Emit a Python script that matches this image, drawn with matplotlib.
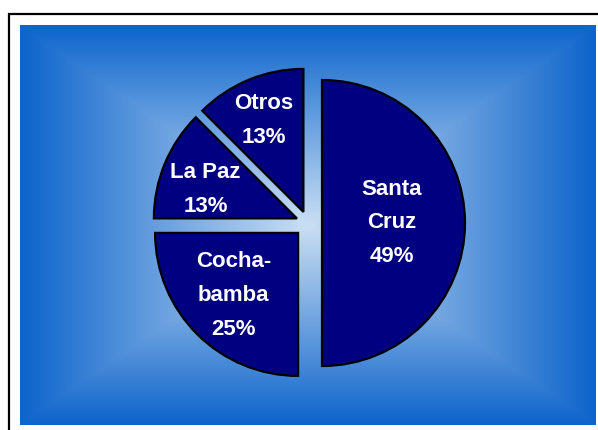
#!/usr/bin/env python3
"""Exploded pie chart of shares by department on a blue gradient panel."""

import numpy as np
import matplotlib.pyplot as plt
from matplotlib.patches import Rectangle

plt.rcParams["font.family"] = ["Liberation Sans", "DejaVu Sans"]

LABELS = ["Santa\nCruz", "Cocha-\nbamba", "La Paz", "Otros"]
# slice sizes as drawn and the printed labels
SLICE_SIZES = [50, 25, 12.5, 12.5]
PCT_LABELS = ["49%", "25%", "13%", "13%"]

# styling
EXPLODE = [14, 14, 12, 12]          # offsets in pixel units
LABEL_DIST = [0.49, 0.63, 0.67, 0.70]
LABEL_TURN = [0, -1, 5, 1]          # degrees added to the wedge mid angle
EDGE_COLOR = (13 / 255, 100 / 255, 204 / 255)
CENTER_COLOR = (202 / 255, 223 / 255, 243 / 255)

W_PX, H_PX = 598, 430
PANEL = (20, 25, 596, 425)           # left, top, right, bottom in image px


def gradient_image(width: int, height: int) -> np.ndarray:
    xs = np.linspace(-1, 1, width)
    ys = np.linspace(-1, 1, height)
    gx, gy = np.meshgrid(xs, ys)
    t = np.maximum(np.abs(gx), np.abs(gy))
    edge = np.array(EDGE_COLOR)
    center = np.array(CENTER_COLOR)
    return center + (edge - center) * t[..., None]


def main() -> int:
    fig = plt.figure(figsize=(W_PX / 100, H_PX / 100), dpi=100)
    fig.patch.set_facecolor("white")

    # outer frame, runs off the right and bottom edges
    fig.patches.append(
        Rectangle((8.5 / W_PX, -0.1), 1.2, 1.1 - 13.5 / H_PX, transform=fig.transFigure,
                  fill=False, edgecolor="black", linewidth=1.6)
    )

    left, top, right, bottom = PANEL
    pw, ph = right - left, bottom - top
    ax = fig.add_axes([left / W_PX, 1 - bottom / H_PX, pw / W_PX, ph / H_PX])
    ax.imshow(gradient_image(pw, ph), extent=(0, pw, 0, ph), origin="upper",
              aspect="auto", zorder=0, interpolation="bilinear")

    center = (308 - left, bottom - 223)
    radius = 143
    wedges, _ = ax.pie(
        SLICE_SIZES,
        explode=EXPLODE,
        startangle=90,
        counterclock=False,
        center=center,
        radius=radius,
        colors=["#000080"] * len(SLICE_SIZES),
        wedgeprops=dict(edgecolor="black", linewidth=1.6),
        frame=True,
    )
    for wedge, label, pct, dist, turn in zip(wedges, LABELS, PCT_LABELS, LABEL_DIST, LABEL_TURN):
        mid = np.deg2rad((wedge.theta1 + wedge.theta2) / 2 + turn)
        cx, cy = wedge.center
        ax.text(cx + dist * radius * np.cos(mid), cy + dist * radius * np.sin(mid),
                f"{label}\n{pct}", color="white", fontsize=16, fontweight="bold",
                ha="center", va="center", linespacing=1.8, multialignment="center")

    ax.set_xlim(0, pw)
    ax.set_ylim(0, ph)
    ax.set_aspect("auto")
    ax.set_axis_off()

    fig.savefig("out.png", dpi=100)
    return 0


if __name__ == "__main__":
    raise SystemExit(main())
